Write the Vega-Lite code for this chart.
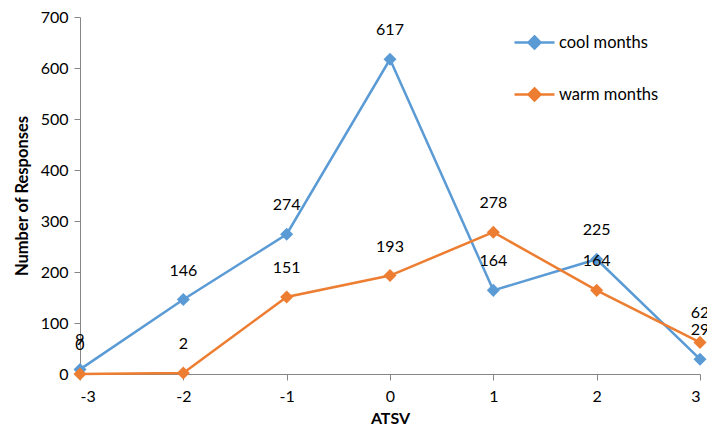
{
  "$schema": "https://vega.github.io/schema/vega-lite/v6.json",
  "width": 620,
  "height": 357,
  "autosize": {"type": "none"},
  "padding": {"left": 80, "top": 17, "right": 7, "bottom": 58},
  "background": "white",
  "config": {
    "font": "Lato",
    "view": {"stroke": null},
    "axis": {
      "grid": false,
      "domainColor": "#868686",
      "tickColor": "#868686",
      "labelColor": "#000000",
      "labelFont": "Lato",
      "labelFontSize": 16,
      "titleFont": "Lato",
      "titleFontSize": 16,
      "titleFontWeight": "bold",
      "titleColor": "#000000"
    }
  },
  "data": {
    "values": [
      {"atsv": -3, "series": "cool months", "responses": 9},
      {"atsv": -2, "series": "cool months", "responses": 146},
      {"atsv": -1, "series": "cool months", "responses": 274},
      {"atsv": 0, "series": "cool months", "responses": 617},
      {"atsv": 1, "series": "cool months", "responses": 164},
      {"atsv": 2, "series": "cool months", "responses": 225},
      {"atsv": 3, "series": "cool months", "responses": 29},
      {"atsv": -3, "series": "warm months", "responses": 0},
      {"atsv": -2, "series": "warm months", "responses": 2},
      {"atsv": -1, "series": "warm months", "responses": 151},
      {"atsv": 0, "series": "warm months", "responses": 193},
      {"atsv": 1, "series": "warm months", "responses": 278},
      {"atsv": 2, "series": "warm months", "responses": 164},
      {"atsv": 3, "series": "warm months", "responses": 62}
    ]
  },
  "encoding": {
    "x": {
      "field": "atsv",
      "type": "quantitative",
      "title": "ATSV",
      "scale": {"domain": [-3, 3], "nice": false, "zero": false},
      "axis": {"values": [-3, -2, -1, 0, 1, 2, 3], "tickSize": 6, "labelPadding": 8, "titlePadding": 6, "labelExpr": "'' + datum.value"}
    },
    "y": {
      "field": "responses",
      "type": "quantitative",
      "title": "Number of Responses",
      "scale": {"domain": [0, 700], "nice": false},
      "axis": {"values": [0, 100, 200, 300, 400, 500, 600, 700], "tickSize": 6, "labelPadding": 6, "titlePadding": 10, "titleFontSize": 16.5}
    },
    "color": {
      "field": "series",
      "type": "nominal",
      "title": null,
      "scale": {"domain": ["cool months", "warm months"], "range": ["#5B9BD5", "#ED7D31"]},
      "legend": {
        "orient": "none",
        "legendX": 433,
        "legendY": 4,
        "labelFont": "Lato",
        "labelFontSize": 16.5,
        "labelColor": "#000000",
        "symbolType": "M-1,0H1M0,-0.3L0.3,0L0,0.3L-0.3,0Z",
        "symbolSize": 1600,
        "symbolStrokeWidth": 2.5,
        "rowPadding": 19,
        "labelOffset": 3,
        "encode": {
          "symbols": {"update": {"fill": {"scale": "color", "field": "value"}}}
        }
      }
    }
  },
  "layer": [
    {
      "mark": {
        "type": "line",
        "strokeWidth": 2.5,
        "point": {"shape": "diamond", "filled": true, "size": 170, "opacity": 1}
      }
    },
    {
      "mark": {"type": "text", "dy": -29, "fontSize": 16, "font": "Lato", "color": "#000000", "baseline": "middle", "clip": false},
      "encoding": {
        "text": {"field": "responses", "type": "quantitative"},
        "color": {"value": "#000000"}
      }
    }
  ]
}
